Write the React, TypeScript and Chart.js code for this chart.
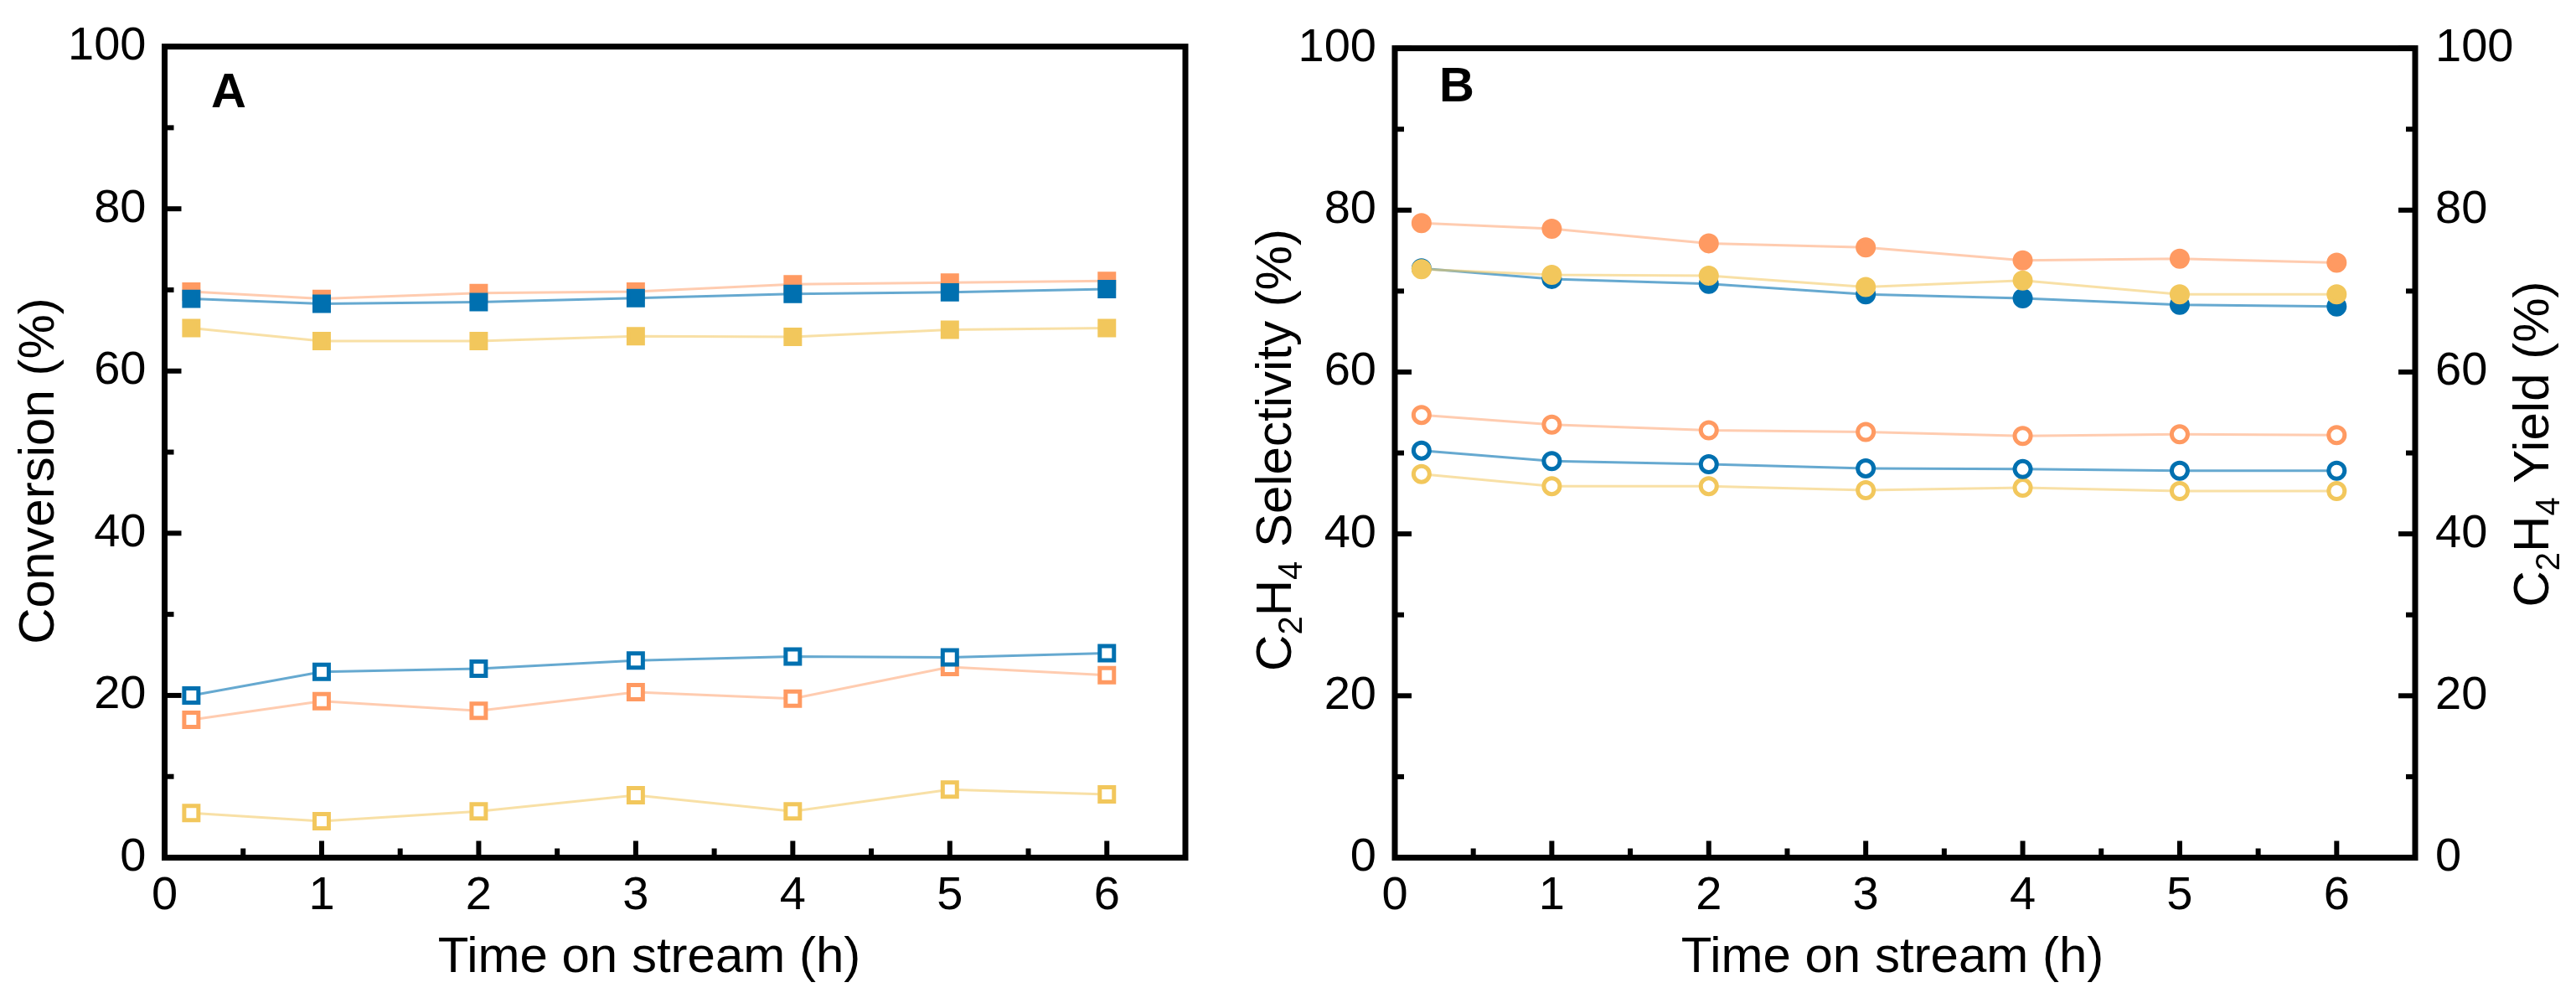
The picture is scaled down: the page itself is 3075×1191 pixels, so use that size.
import React, { useEffect, useRef } from "react";
import { Chart, registerables } from "chart.js";

Chart.register(...registerables);

const FONT = '"Liberation Sans", Arial, sans-serif';

// time on stream (h)
const time = [0.17, 1, 2, 3, 4, 5, 6];
const xTicks = [0, 1, 2, 3, 4, 5, 6];
const xMinorTicks = [0.5, 1.5, 2.5, 3.5, 4.5, 5.5];
const yTicks = [0, 20, 40, 60, 80, 100];
const yMinorTicks = [10, 30, 50, 70, 90];

// panel A: conversion (%), filled / open squares
const convOrangeFilled = [69.8, 68.9, 69.6, 69.8, 70.7, 70.9, 71.1];
const convBlueFilled = [68.9, 68.3, 68.5, 69.0, 69.5, 69.7, 70.1];
const convYellowFilled = [65.3, 63.7, 63.7, 64.3, 64.2, 65.1, 65.3];
const convBlueOpen = [20.0, 22.9, 23.3, 24.3, 24.8, 24.7, 25.2];
const convOrangeOpen = [17.0, 19.3, 18.1, 20.4, 19.6, 23.5, 22.5];
const convYellowOpen = [5.5, 4.5, 5.7, 7.7, 5.7, 8.4, 7.8];

// panel B: C2H4 selectivity (filled) and C2H4 yield (open), %
const selOrange = [78.4, 77.7, 75.9, 75.4, 73.8, 74.0, 73.5];
const selBlue = [72.8, 71.5, 70.9, 69.6, 69.1, 68.3, 68.1];
const selYellow = [72.7, 72.0, 71.9, 70.5, 71.3, 69.6, 69.6];
const yieldOrange = [54.7, 53.5, 52.8, 52.6, 52.1, 52.3, 52.2];
const yieldBlue = [50.3, 49.0, 48.6, 48.1, 48.0, 47.8, 47.8];
const yieldYellow = [47.4, 45.9, 45.9, 45.4, 45.7, 45.3, 45.3];

const BLUE = "rgb(0,112,176)";
const ORANGE = "rgb(255,154,98)";
const YELLOW = "rgb(242,199,92)";
const LINE = {
  [BLUE]: "rgba(0,112,176,0.6)",
  [ORANGE]: "rgba(255,154,98,0.5)",
  [YELLOW]: "rgba(242,199,92,0.55)",
};

type Part = { text: string; sub?: boolean };
type Title = { parts: Part[]; x: number; y: number; rotate?: boolean };

const pts = (ys: number[]) => time.map((t, i) => ({ x: t, y: ys[i] }));

const series = (
  label: string,
  ys: number[],
  color: string,
  filled: boolean,
  shape: "rect" | "circle",
  order: number,
  yAxisID = "y"
) => ({
  label,
  data: pts(ys),
  borderColor: LINE[color],
  borderWidth: 3,
  pointStyle: shape,
  pointRadius: shape === "rect" ? 12 : 9.5,
  pointBorderWidth: 5,
  pointBackgroundColor: filled ? color : "#ffffff",
  pointBorderColor: color,
  tension: 0,
  fill: false,
  order,
  yAxisID,
});

function drawRich(ctx: CanvasRenderingContext2D, t: Title) {
  ctx.save();
  ctx.translate(t.x, t.y);
  if (t.rotate) ctx.rotate(-Math.PI / 2);
  const big = `60px ${FONT}`;
  const small = `40px ${FONT}`;
  let total = 0;
  for (const p of t.parts) {
    ctx.font = p.sub ? small : big;
    total += ctx.measureText(p.text).width;
  }
  let cx = -total / 2;
  ctx.textAlign = "left";
  ctx.textBaseline = "alphabetic";
  ctx.fillStyle = "#000";
  for (const p of t.parts) {
    ctx.font = p.sub ? small : big;
    ctx.fillText(p.text, cx, p.sub ? 13 : 0);
    cx += ctx.measureText(p.text).width;
  }
  ctx.restore();
}

const decor = {
  id: "decor",
  afterDatasetsDraw(chart: any, _args: any, opts: any) {
    const { ctx, chartArea: a, scales } = chart;
    const xs = scales.x;
    const ys = scales.y;
    ctx.save();
    ctx.strokeStyle = "#000";
    ctx.lineCap = "butt";

    // inward ticks
    const tick = (x1: number, y1: number, x2: number, y2: number) => {
      ctx.beginPath();
      ctx.moveTo(x1, y1);
      ctx.lineTo(x2, y2);
      ctx.stroke();
    };
    ctx.lineWidth = 6;
    const sides = opts.rightTicks ? [a.left, a.right] : [a.left];
    for (const sx of sides) {
      const dir = sx === a.left ? 1 : -1;
      yTicks.forEach((v) => {
        const py = ys.getPixelForValue(v);
        tick(sx, py, sx + dir * 20, py);
      });
      yMinorTicks.forEach((v) => {
        const py = ys.getPixelForValue(v);
        tick(sx, py, sx + dir * 11, py);
      });
    }
    xTicks.forEach((v) => {
      const px = xs.getPixelForValue(v);
      tick(px, a.bottom, px, a.bottom - 20);
    });
    xMinorTicks.forEach((v) => {
      const px = xs.getPixelForValue(v);
      tick(px, a.bottom, px, a.bottom - 11);
    });

    // frame
    ctx.lineWidth = 7;
    ctx.strokeRect(a.left, a.top, a.right - a.left, a.bottom - a.top);

    // panel letter
    ctx.fillStyle = "#000";
    ctx.font = `bold 58px ${FONT}`;
    ctx.textAlign = "left";
    ctx.textBaseline = "alphabetic";
    ctx.fillText(opts.letter, opts.letterX, opts.letterY);

    (opts.titles as Title[]).forEach((t) => drawRich(ctx, t));
    ctx.restore();
  },
};

const tickFont = { family: FONT, size: 56 };

const yAxis = (width: number, position: "left" | "right", padding: number) => ({
  type: "linear" as const,
  position,
  min: 0,
  max: 100,
  afterBuildTicks: (s: any) => {
    s.ticks = yTicks.map((v) => ({ value: v }));
  },
  afterFit: (s: any) => {
    s.width = width;
  },
  grid: { display: false, drawTicks: false },
  border: { display: false },
  ticks: { font: tickFont, color: "#000", padding },
});

const xAxis = {
  type: "linear" as const,
  min: 0,
  max: 6.5,
  afterBuildTicks: (s: any) => {
    s.ticks = xTicks.map((v) => ({ value: v }));
  },
  afterFit: (s: any) => {
    s.height = 1191 - 1023.5;
  },
  grid: { display: false, drawTicks: false },
  border: { display: false },
  ticks: { font: tickFont, color: "#000", padding: 12, maxRotation: 0 },
};

const baseOptions = (extra: any) => ({
  responsive: false,
  animation: false as const,
  events: [],
  layout: { padding: extra.padding },
  plugins: {
    legend: { display: false },
    tooltip: { enabled: false },
    decor: extra.decor,
  },
  scales: extra.scales,
});

const App = () => {
  const refA = useRef<HTMLCanvasElement | null>(null);
  const refB = useRef<HTMLCanvasElement | null>(null);

  useEffect(() => {
    if (!refA.current || !refB.current) return;

    const chartA = new Chart(refA.current, {
      type: "line",
      data: {
        datasets: [
          series("Orange filled", convOrangeFilled, ORANGE, true, "rect", 3),
          series("Blue filled", convBlueFilled, BLUE, true, "rect", 2),
          series("Yellow filled", convYellowFilled, YELLOW, true, "rect", 4),
          series("Blue open", convBlueOpen, BLUE, false, "rect", 5),
          series("Orange open", convOrangeOpen, ORANGE, false, "rect", 6),
          series("Yellow open", convYellowOpen, YELLOW, false, "rect", 7),
        ] as any,
      },
      options: baseOptions({
        padding: { top: 41, right: 25, bottom: 0, left: 0 },
        scales: { x: xAxis, y: yAxis(196.5, "left", 22) },
        decor: {
          letter: "A",
          letterX: 252,
          letterY: 128,
          rightTicks: false,
          titles: [
            { parts: [{ text: "Conversion (%)" }], x: 64, y: 562, rotate: true },
            { parts: [{ text: "Time on stream (h)" }], x: 775, y: 1160 },
          ],
        },
      }) as any,
      plugins: [decor],
    });

    const chartB = new Chart(refB.current, {
      type: "line",
      data: {
        datasets: [
          series("Orange selectivity", selOrange, ORANGE, true, "circle", 3),
          series("Blue selectivity", selBlue, BLUE, true, "circle", 4),
          series("Yellow selectivity", selYellow, YELLOW, true, "circle", 2),
          series("Orange yield", yieldOrange, ORANGE, false, "circle", 5, "y2"),
          series("Blue yield", yieldBlue, BLUE, false, "circle", 6, "y2"),
          series("Yellow yield", yieldYellow, YELLOW, false, "circle", 7, "y2"),
        ] as any,
      },
      options: baseOptions({
        padding: { top: 41, right: 0, bottom: 0, left: 0 },
        scales: {
          x: xAxis,
          y: yAxis(225, "left", 22),
          y2: yAxis(192, "right", 24),
        },
        decor: {
          letter: "B",
          letterX: 278,
          letterY: 121,
          rightTicks: true,
          titles: [
            {
              parts: [
                { text: "C" },
                { text: "2", sub: true },
                { text: "H" },
                { text: "4", sub: true },
                { text: " Selectivity (%)" },
              ],
              x: 101,
              y: 537,
              rotate: true,
            },
            {
              parts: [
                { text: "C" },
                { text: "2", sub: true },
                { text: "H" },
                { text: "4", sub: true },
                { text: " Yield (%)" },
              ],
              x: 1602,
              y: 530,
              rotate: true,
            },
            { parts: [{ text: "Time on stream (h)" }], x: 819, y: 1160 },
          ],
        },
      }) as any,
      plugins: [decor],
    });

    return () => {
      chartA.destroy();
      chartB.destroy();
    };
  }, []);

  return (
    <div
      style={{
        position: "absolute",
        left: 0,
        top: 0,
        width: 3075,
        height: 1191,
        background: "#fff",
      }}
    >
      <canvas
        ref={refA}
        width={1440}
        height={1191}
        style={{ position: "absolute", left: 0, top: 0, width: 1440, height: 1191 }}
      />
      <canvas
        ref={refB}
        width={1635}
        height={1191}
        style={{ position: "absolute", left: 1440, top: 0, width: 1635, height: 1191 }}
      />
    </div>
  );
};

export default App;
